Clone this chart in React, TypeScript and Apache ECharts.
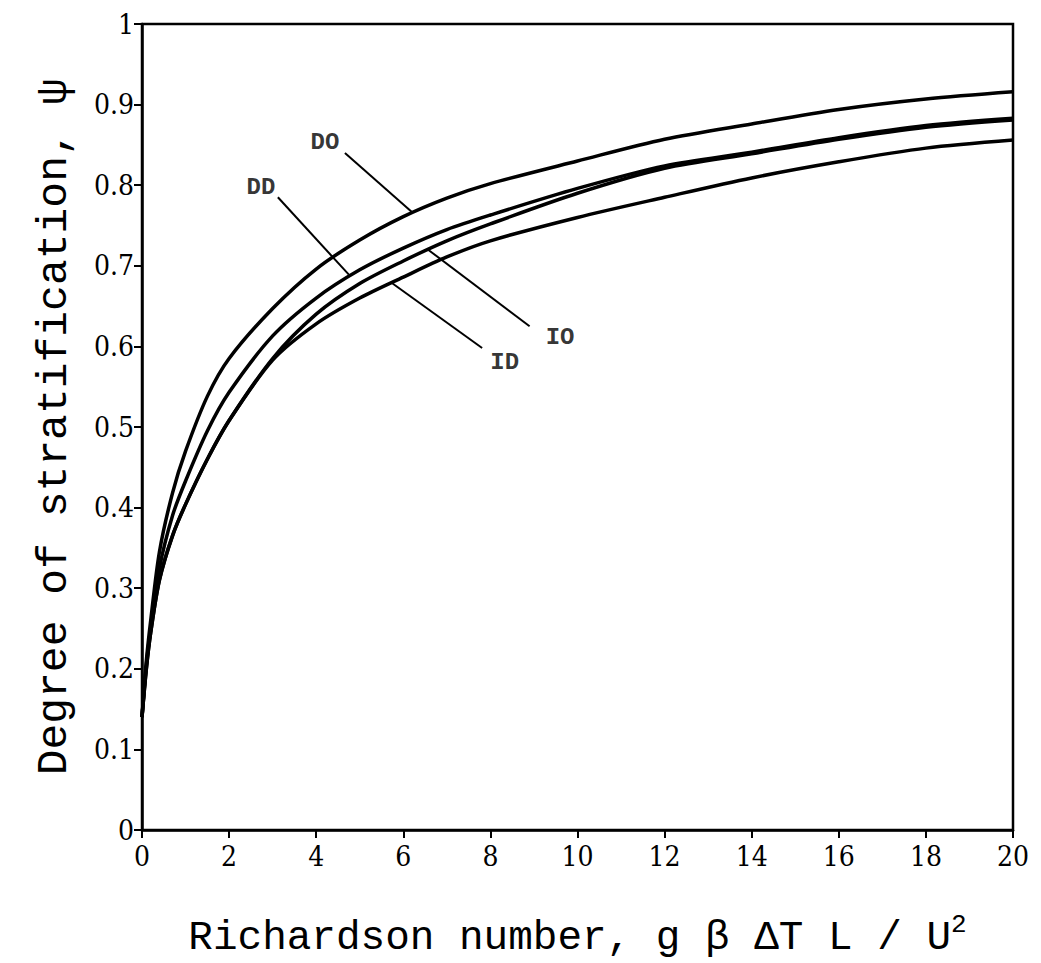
import React, { useEffect, useRef } from "react";
import * as echarts from "echarts";

const XS = [0, 0.1, 0.2, 0.4, 0.7, 1, 1.5, 2, 3, 4, 5, 6, 7, 8, 10, 12, 14, 16, 18, 20];
const DO = [0.14, 0.21, 0.26, 0.345, 0.418, 0.47, 0.538, 0.585, 0.647, 0.696, 0.732, 0.761, 0.784, 0.802, 0.83, 0.857, 0.876, 0.894, 0.907, 0.916];
const DD = [0.14, 0.205, 0.25, 0.325, 0.39, 0.433, 0.495, 0.543, 0.613, 0.66, 0.695, 0.722, 0.745, 0.763, 0.796, 0.824, 0.841, 0.859, 0.874, 0.883];
const IO = [0.14, 0.2, 0.245, 0.31, 0.365, 0.404, 0.46, 0.508, 0.585, 0.64, 0.678, 0.706, 0.731, 0.752, 0.79, 0.821, 0.839, 0.857, 0.872, 0.881];
const ID = [0.14, 0.2, 0.245, 0.31, 0.365, 0.404, 0.46, 0.508, 0.583, 0.628, 0.66, 0.686, 0.711, 0.731, 0.76, 0.785, 0.809, 0.829, 0.846, 0.856];

const CURVE_NAMES = ["DO", "DD", "IO", "ID"];
const CURVES = [DO, DD, IO, ID];

// leader lines: [label end, curve end]
const LEADER_DO = [[4.66, 0.84], [6.21, 0.766]];
const LEADER_DD = [[3.12, 0.785], [4.75, 0.689]];
const LEADER_IO = [[8.9, 0.625], [6.57, 0.72]];
const LEADER_ID = [[7.81, 0.598], [5.73, 0.679]];
const LEADERS = [LEADER_DO, LEADER_DD, LEADER_IO, LEADER_ID];

const LABEL_POS = [[4.2, 0.853], [2.73, 0.797], [9.6, 0.611], [8.33, 0.58]];

const X_MAX = 20;
const Y_MAX = 1;

const FONT = "'Liberation Mono', 'DejaVu Sans Mono', monospace";
const TICK_FONT = "'DejaVu Serif Condensed', 'DejaVu Serif', serif";

export default function App() {
  const ref = useRef<HTMLDivElement>(null);
  useEffect(() => {
    if (!ref.current) return;
    const chart = echarts.init(ref.current, undefined, { renderer: "svg" });
    const series: any[] = [];
    CURVES.forEach((c, i) => {
      series.push({
        type: "line",
        name: CURVE_NAMES[i],
        data: XS.map((x, j) => [x, c[j]]),
        smooth: 0.3,
        showSymbol: false,
        lineStyle: { color: "#000", width: 3.5 },
        z: 3,
      });
    });
    LEADERS.forEach((l) => {
      series.push({
        type: "line",
        data: l,
        showSymbol: false,
        lineStyle: { color: "#000", width: 2 },
        z: 2,
      });
    });
    series.push({
      type: "scatter",
      data: LABEL_POS.map((p, i) => ({ value: p, name: CURVE_NAMES[i] })),
      symbolSize: 0,
      label: {
        show: true,
        position: "inside",
        formatter: (p: any) => p.name,
        color: "#000",
        fontFamily: FONT,
        fontWeight: "bold",
        fontSize: 24,
      },
      z: 4,
    });
    chart.setOption({
      animation: false,
      backgroundColor: "#fff",
      grid: {
        left: 142,
        right: 28,
        top: 24,
        bottom: 131,
        show: true,
        borderColor: "#000",
        borderWidth: 2.5,
        backgroundColor: "transparent",
      },
      xAxis: {
        type: "value",
        min: 0,
        max: X_MAX,
        interval: 2,
        axisLine: { show: true, lineStyle: { color: "#000", width: 2.5 } },
        axisTick: { show: true, inside: false, length: 8, lineStyle: { color: "#000", width: 2 } },
        splitLine: { show: false },
        axisLabel: { color: "#000", fontFamily: TICK_FONT, fontSize: 28, margin: 12 },
        name: "{a|Richardson number, g β ΔT L / U}{s|2}",
        nameLocation: "middle",
        nameGap: 82,
        nameTextStyle: {
          color: "#000",
          rich: {
            a: { fontFamily: FONT, fontSize: 41, color: "#000", lineHeight: 46, verticalAlign: "bottom" },
            s: { fontFamily: FONT, fontSize: 26, color: "#000", lineHeight: 46, verticalAlign: "top", padding: [0, 0, 18, 0] },
          },
        },
      },
      yAxis: {
        type: "value",
        min: 0,
        max: Y_MAX,
        interval: 0.1,
        axisLine: { show: true, lineStyle: { color: "#000", width: 2.5 } },
        axisTick: { show: true, inside: false, length: 8, lineStyle: { color: "#000", width: 2 } },
        splitLine: { show: false },
        axisLabel: {
          color: "#000",
          fontFamily: TICK_FONT,
          fontSize: 28,
          margin: 8,
          formatter: (v: number) => (v === 0 ? "0" : Math.abs(v - 1) < 1e-9 ? "1" : v.toFixed(1)),
        },
        name: "Degree of stratification, ψ",
        nameLocation: "middle",
        nameGap: 66,
        nameTextStyle: { color: "#000", fontFamily: FONT, fontSize: 43 },
      },
      series,
    });
    return () => chart.dispose();
  }, []);
  return (
    <div
      ref={ref}
      style={{ position: "fixed", left: 0, top: 0, width: "100vw", height: "100vh", background: "#fff" }}
    />
  );
}
